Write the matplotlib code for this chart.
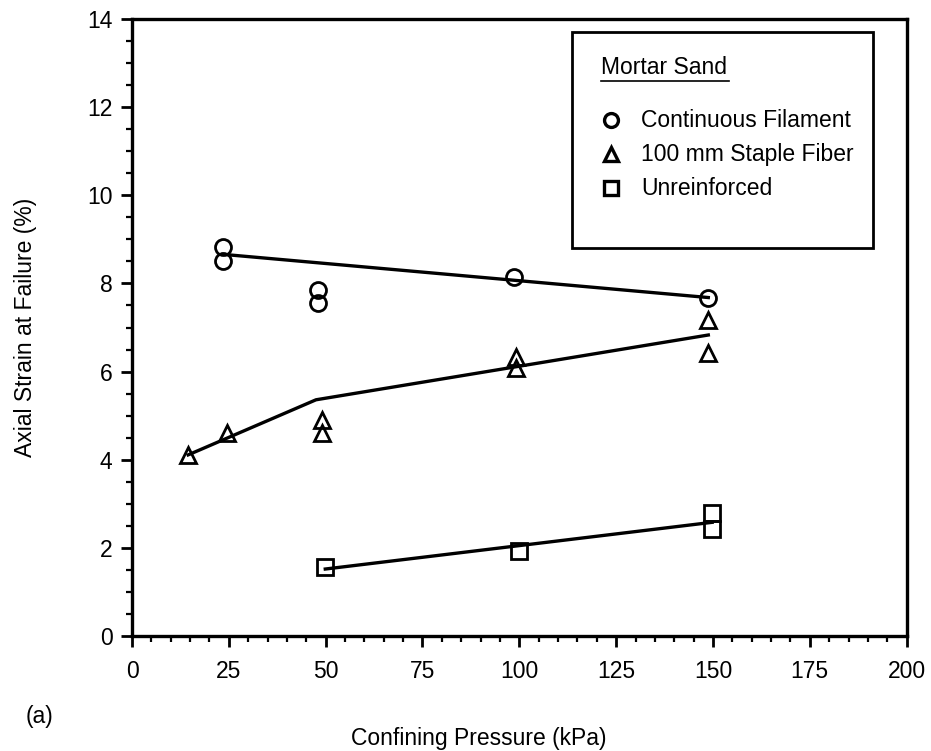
import numpy as np
import matplotlib.pyplot as plt
from matplotlib.patches import Rectangle
from matplotlib.lines import Line2D

plt.rcParams['font.family'] = ['Liberation Sans', 'DejaVu Sans']
plt.rcParams['font.size'] = 16.5

# measured points: confining pressure (kPa) vs axial strain at failure (%)
cf_x = np.array([23.5, 23.5, 48.0, 48.0, 98.7, 148.8])
cf_y = np.array([8.82, 8.52, 7.84, 7.55, 8.14, 7.68])

sf_x = np.array([14.5, 24.5, 49.1, 49.1, 99.2, 99.2, 148.8, 148.8])
sf_y = np.array([4.11, 4.61, 4.91, 4.61, 6.32, 6.09, 7.18, 6.43])

ur_x = np.array([49.9, 100.0, 149.8, 149.8])
ur_y = np.array([1.57, 1.94, 2.80, 2.43])

# trend lines drawn through each set
cf_fit_x = [23.5, 148.8]
cf_fit_y = [8.66, 7.68]
sf_fit_x = [14.5, 47.5, 148.8]
sf_fit_y = [4.11, 5.36, 6.83]
ur_fit_x = [49.9, 149.8]
ur_fit_y = [1.52, 2.58]

labels = ['Continuous Filament', '100 mm Staple Fiber', 'Unreinforced']
markers = ['o', '^', 's']

fig = plt.figure(figsize=(9.31, 7.51), dpi=100)
ax = fig.add_axes([0.1418, 0.1531, 0.832, 0.8216])

lw = 2.4
ax.plot(cf_fit_x, cf_fit_y, color='k', lw=lw)
ax.plot(sf_fit_x, sf_fit_y, color='k', lw=lw)
ax.plot(ur_fit_x, ur_fit_y, color='k', lw=lw)

mk = dict(linestyle='none', mfc='none', mec='k', mew=2)
ax.plot(cf_x, cf_y, marker='o', ms=11.5, **mk)
ax.plot(sf_x, sf_y, marker='^', ms=11.5, **mk)
ax.plot(ur_x, ur_y, marker='s', ms=11, **mk)

ax.set_xlim(0, 200)
ax.set_ylim(0, 14)
ax.set_xticks(np.arange(0, 201, 25))
ax.set_yticks(np.arange(0, 15, 2))
ax.set_xticks(np.arange(0, 201, 5), minor=True)
ax.set_yticks(np.arange(0, 14.1, 0.5), minor=True)
ax.tick_params(which='major', direction='out', length=8, width=2)
ax.tick_params(which='minor', direction='out', length=4, width=1.6)
ax.tick_params(axis='x', pad=9)
ax.tick_params(axis='y', pad=6)
for s in ax.spines.values():
    s.set_linewidth(2.4)

ax.set_ylabel('Axial Strain at Failure (%)', labelpad=36)
fig.text(0.514, 0.0173, 'Confining Pressure (kPa)', ha='center', va='center')
fig.text(0.028, 0.0453, '(a)', ha='left', va='center')

# legend box drawn by hand
tr = ax.transAxes
ax.add_patch(Rectangle((0.568, 0.629), 0.389, 0.350, transform=tr,
                       fill=False, ec='k', lw=2, zorder=5))
title = ax.text(0.687, 0.922, 'Mortar Sand', transform=tr,
                ha='center', va='center', zorder=6)
ax.add_line(Line2D([0.605, 0.771], [0.9, 0.9], transform=tr,
                   color='k', lw=1.2, zorder=6))
rows = [0.836, 0.781, 0.726]
for lab, m, yy in zip(labels, markers, rows):
    ax.plot([0.619], [yy], marker=m, ms=10, transform=tr, clip_on=False,
            linestyle='none', mfc='none', mec='k', mew=2.4, zorder=6)
    ax.text(0.657, yy, lab, transform=tr, ha='left', va='center', zorder=6)

fig.savefig('out.png', dpi=100, facecolor='white')
